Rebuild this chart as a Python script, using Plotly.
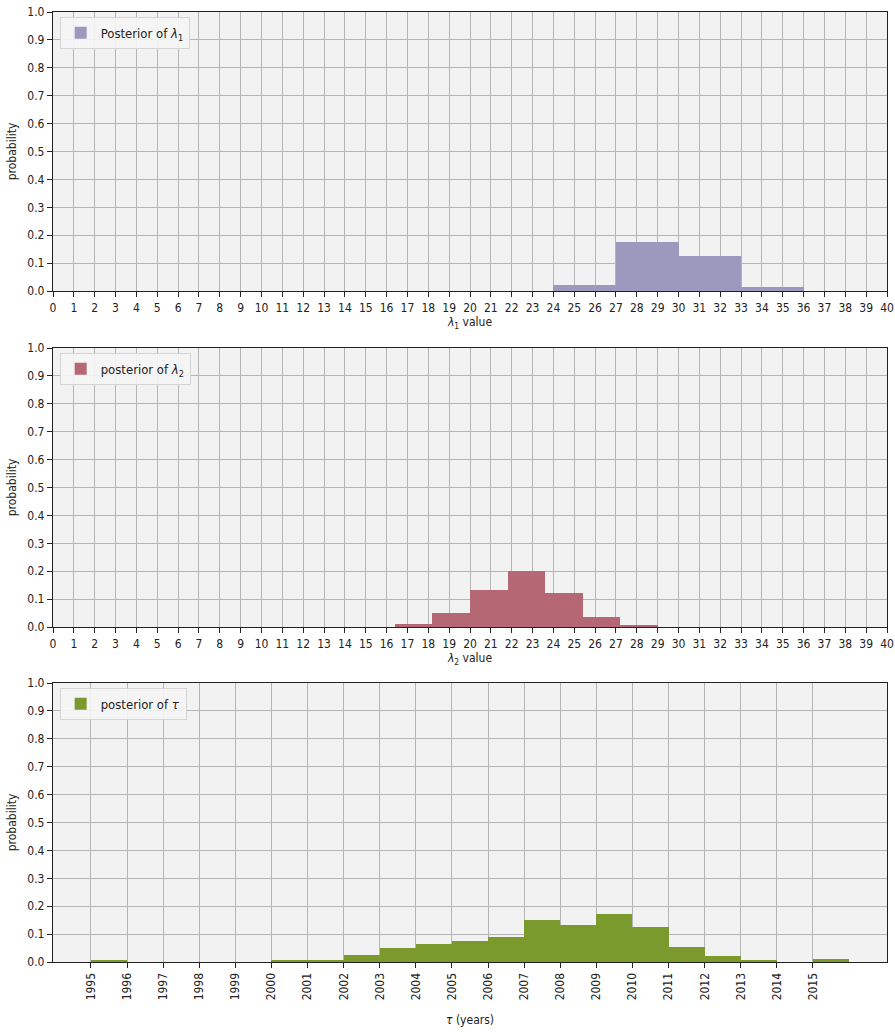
import plotly.graph_objects as go

# ---- data ----
lam1_edges = [24, 27, 30, 33, 36]
lam1_probs = [0.020, 0.174, 0.127, 0.016]

lam2_edges = [16.4, 18.2, 20.0, 21.8, 23.6, 25.4, 27.2, 29.0]
lam2_probs = [0.012, 0.049, 0.133, 0.199, 0.122, 0.037, 0.006]

tau_edges = list(range(1995, 2017))
tau_probs = [0.005, 0.0, 0.0, 0.0, 0.0, 0.005, 0.005, 0.024, 0.049, 0.066,
             0.076, 0.090, 0.150, 0.133, 0.172, 0.126, 0.053, 0.023, 0.006,
             0.0, 0.012]

lam_ticks = list(range(0, 41))
tau_ticks = list(range(1995, 2016))
y_ticks = [i / 10 for i in range(11)]

C1 = "#9b99bd"
C2 = "#b56874"
C3 = "#7a9a2e"


def centers(edges):
    return [(a + b) / 2 for a, b in zip(edges[:-1], edges[1:])]


def widths(edges):
    return [b - a for a, b in zip(edges[:-1], edges[1:])]


FONT = "DejaVu Sans Condensed, DejaVu Sans, sans-serif"

fig = go.Figure()
fig.add_trace(go.Bar(x=centers(lam1_edges), y=lam1_probs, width=widths(lam1_edges),
                     marker=dict(color=C1, line=dict(width=0)),
                     name="Posterior of <i>λ</i><sub>1</sub>",
                     xaxis="x", yaxis="y", legend="legend"))
fig.add_trace(go.Bar(x=centers(lam2_edges), y=lam2_probs, width=widths(lam2_edges),
                     marker=dict(color=C2, line=dict(width=0)),
                     name="posterior of <i>λ</i><sub>2</sub>",
                     xaxis="x2", yaxis="y2", legend="legend2"))
fig.add_trace(go.Bar(x=centers(tau_edges), y=tau_probs, width=widths(tau_edges),
                     marker=dict(color=C3, line=dict(width=0)),
                     name="posterior of <i>τ</i>",
                     xaxis="x3", yaxis="y3", legend="legend3"))

H = 1032
T, B = 12, 70
ph = H - T - B


def dom(top_px, bot_px):
    return [(H - B - bot_px) / ph, (H - B - top_px) / ph]


axis_common = dict(showline=True, linecolor="#222222", linewidth=1.2, mirror=True,
                   showgrid=True, gridcolor="#b5b5b5", gridwidth=1,
                   ticks="outside", ticklen=5, tickcolor="#222222",
                   tickfont=dict(family=FONT, size=12, color="#222222"),
                   zeroline=False, automargin=False)

yax = dict(axis_common, range=[0, 1.0], tickvals=y_ticks, tickformat=".1f",
           title=dict(text="probability", font=dict(family=FONT, size=12, color="#222222"),
                      standoff=8))

legend_common = dict(x=0.008, xanchor="left", yanchor="top",
                     bgcolor="rgba(245,245,245,0.9)", bordercolor="#d4d4d4", borderwidth=1,
                     font=dict(family=FONT, size=13, color="#222222"))

fig.update_layout(
    width=895, height=H,
    margin=dict(l=53, r=8, t=T, b=B),
    paper_bgcolor="white", plot_bgcolor="#f2f2f2",
    bargap=0, showlegend=True,
    font=dict(family=FONT, size=12, color="#222222"),
    xaxis=dict(axis_common, domain=[0, 1], anchor="y", range=[0, 40], tickvals=lam_ticks,
               title=dict(text="<i>λ</i><sub>1</sub> value", font=dict(family=FONT, size=12),
                          standoff=4)),
    yaxis=dict(yax, domain=dom(12, 291), anchor="x"),
    xaxis2=dict(axis_common, domain=[0, 1], anchor="y2", range=[0, 40], tickvals=lam_ticks,
                title=dict(text="<i>λ</i><sub>2</sub> value", font=dict(family=FONT, size=12),
                           standoff=4)),
    yaxis2=dict(yax, domain=dom(348, 627), anchor="x2"),
    xaxis3=dict(axis_common, domain=[0, 1], anchor="y3", range=[1993.95, 2017.05],
                tickvals=tau_ticks, tickangle=-90,
                title=dict(text="<i>τ</i> (years)", font=dict(family=FONT, size=12),
                           standoff=16)),
    yaxis3=dict(yax, domain=dom(683, 962), anchor="x3"),
    legend=dict(legend_common, y=dom(12, 291)[1] - 0.005),
    legend2=dict(legend_common, y=dom(348, 627)[1] - 0.005),
    legend3=dict(legend_common, y=dom(683, 962)[1] - 0.005),
)

fig.write_html(
    "out.html",
    config={"displayModeBar": False},
    post_script="document.documentElement.style.margin='0';document.body.style.margin='0';"
                "document.body.style.overflow='hidden';",
)
